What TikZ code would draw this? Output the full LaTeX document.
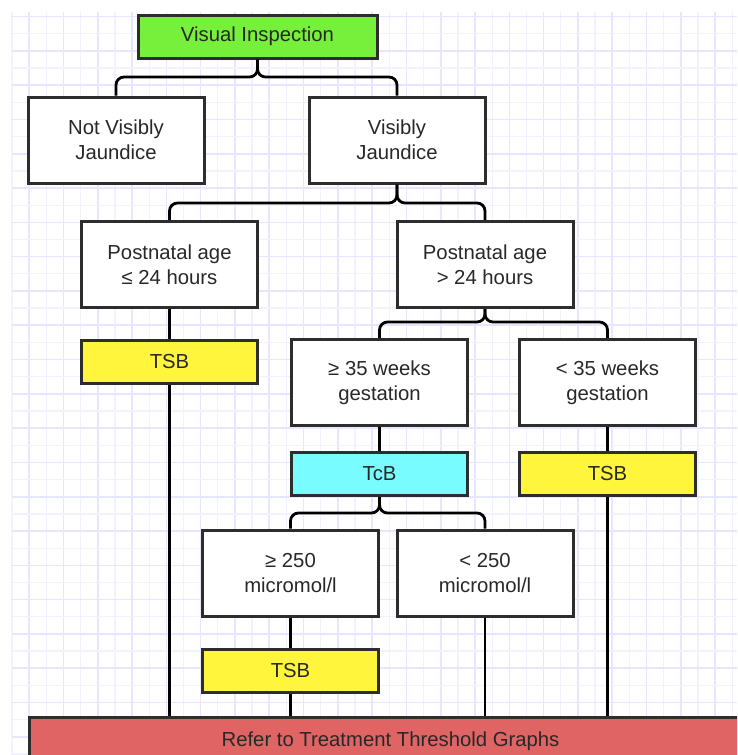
\documentclass[tikz,border=0pt]{standalone}
\usepackage{fontspec}
\setmainfont{Liberation Sans}
\usetikzlibrary{positioning}
\definecolor{border}{RGB}{45,45,45}
\definecolor{txt}{RGB}{40,40,40}
\definecolor{inspgreen}{RGB}{118,240,58}
\definecolor{testyellow}{RGB}{255,245,60}
\definecolor{tcbcyan}{RGB}{120,252,255}
\definecolor{referred}{RGB}{224,100,100}
\definecolor{gridminor}{RGB}{242,242,255}
\definecolor{gridmajor}{RGB}{230,230,255}
\tikzset{
    box/.style={
        rectangle,
        draw=border,
        line width=3pt,
        fill=white,
        text=txt,
        align=center,
        inner sep=0pt,
        minimum width=176pt,
        minimum height=86pt,
        font=\fontsize{20.3}{25}\selectfont
    },
    test/.style={box, minimum height=43pt},
    link/.style={line width=2.8pt, draw=black, rounded corners=8pt}
}

\begin{document}
\begin{tikzpicture}[x=1pt, y=-1pt]

\useasboundingbox (0,0) rectangle (737,755);
\clip (0,0) rectangle (737,755);
\fill[white] (0,0) rectangle (737,755);

% background grid, every other line a bit darker
\foreach \i in {0,...,42} {
    \pgfmathsetmacro{\gx}{12+17.15*\i}
    \ifodd\i
        \draw[gridmajor, line width=1.6pt] (\gx,12) -- (\gx,755);
    \else
        \draw[gridminor, line width=1.3pt] (\gx,12) -- (\gx,755);
    \fi
}
\foreach \i in {0,...,43} {
    \pgfmathsetmacro{\gy}{16.5+17.15*\i}
    \ifodd\i
        \draw[gridminor, line width=1.3pt] (12,\gy) -- (737,\gy);
    \else
        \draw[gridmajor, line width=1.6pt] (12,\gy) -- (737,\gy);
    \fi
}

\node[test, fill=inspgreen, minimum width=239pt] (vis) at (257.5,36.5) {Visual Inspection};
\node[box] (notvis) at (116,140) {Not Visibly\\Jaundice};
\node[box] (jaund) at (397,140) {Visibly\\Jaundice};

\node[box] (ageL) at (169.5,264.5) {Postnatal age\\≤ 24 hours};
\node[box] (ageR) at (485,264.5) {Postnatal age\\> 24 hours};
\node[test, fill=testyellow] (tsbL) at (169.5,361.5) {TSB};

\node[box] (ge35) at (379.5,382.5) {≥ 35 weeks\\gestation};
\node[box] (lt35) at (607.5,382.5) {< 35 weeks\\gestation};
\node[test, fill=tcbcyan] (tcb) at (379.5,474) {TcB};
\node[test, fill=testyellow] (tsbR) at (607.5,474) {TSB};

\node[box] (ge250) at (290.5,573) {≥ 250\\micromol/l};
\node[box] (lt250) at (485,573) {< 250\\micromol/l};
\node[test, fill=testyellow] (tsbB) at (290.5,670.5) {TSB};

\node[box, fill=referred, minimum width=722pt, minimum height=48pt, anchor=north west] (refer) at (28,716) {Refer to Treatment Threshold Graphs};

\coordinate (split1) at (257.5,77);
\coordinate (split2) at (397,203);
\coordinate (split3) at (485,322);
\coordinate (split4) at (379.5,513);

\draw[link] (notvis.north) |- (split1) -- (vis.south);
\draw[link] (jaund.north) |- (split1) -- (vis.south);
\draw[link] (ageL.north) |- (split2) -- (jaund.south);
\draw[link] (ageR.north) |- (split2) -- (jaund.south);
\draw[link] (ge35.north) |- (split3) -- (ageR.south);
\draw[link] (lt35.north) |- (split3) -- (ageR.south);
\draw[link] (ge250.north) |- (split4) -- (tcb.south);
\draw[link] (lt250.north) |- (split4) -- (tcb.south);

\draw[link] (ageL.south) -- (tsbL.north);
\draw[link] (tsbL.south) -- (tsbL.south |- refer.north);
\draw[link] (ge35.south) -- (tcb.north);
\draw[link] (lt35.south) -- (tsbR.north);
\draw[link] (tsbR.south) -- (tsbR.south |- refer.north);
\draw[link] (ge250.south) -- (tsbB.north);
\draw[link] (tsbB.south) -- (tsbB.south |- refer.north);
\draw[link] (lt250.south) -- (lt250.south |- refer.north);

\end{tikzpicture}
\end{document}
